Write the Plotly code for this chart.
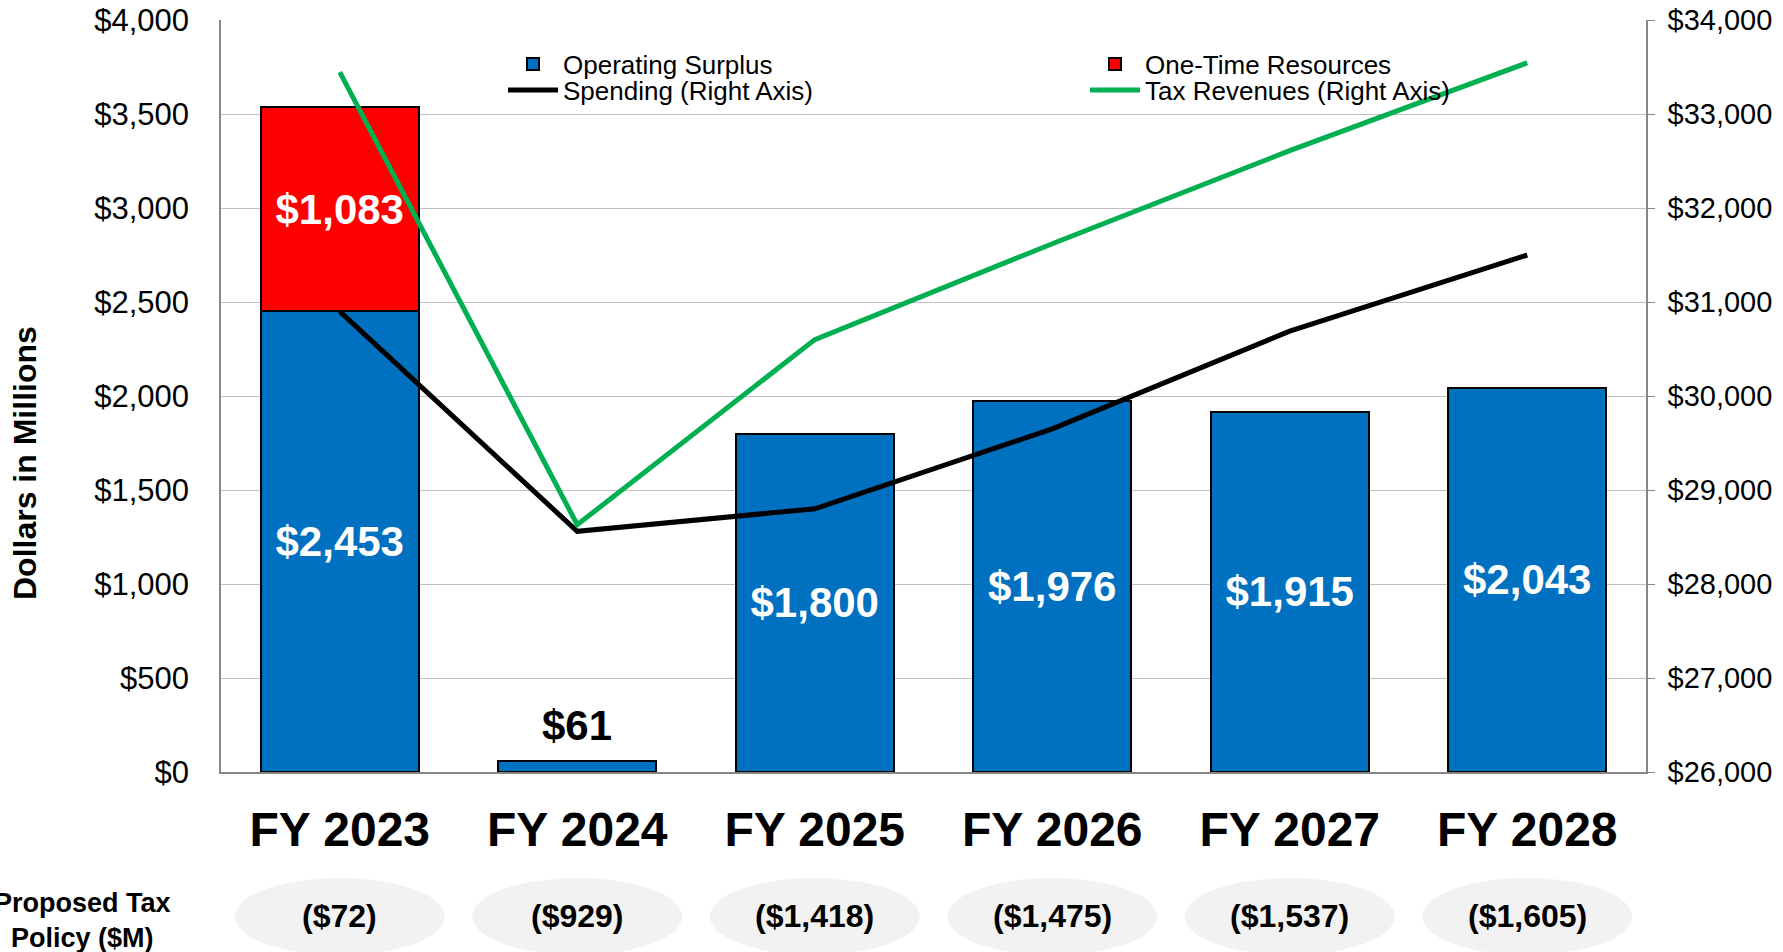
import plotly.graph_objects as go

years = ["FY 2023", "FY 2024", "FY 2025", "FY 2026", "FY 2027", "FY 2028"]
operating_surplus = [2453, 61, 1800, 1976, 1915, 2043]
one_time_resources = [1083, None, None, None, None, None]
spending = [30900, 28560, 28800, 29650, 30690, 31500]
tax_revenues = [33445, 28630, 30600, 31620, 32610, 33545]
tax_policy = [-72, -929, -1418, -1475, -1537, -1605]

FONT = "Liberation Sans, Arial, sans-serif"
W, H = 1783, 952
ML, MR, MT, MB = 221, 137, 20, 180
PH = H - MT - MB
PW = W - ML - MR

def py(px):
    return (H - MB - px) / PH

def pxx(px):
    return (px - ML) / PW

def money(v):
    return "(${:,})".format(abs(v)) if v < 0 else "${:,}".format(v)

# bar labels: the tiny FY 2024 bar gets its label as an annotation above it
surplus_text = [money(v) for v in operating_surplus]
surplus_text[1] = ""

fig = go.Figure()

fig.add_trace(go.Bar(
    x=years, y=operating_surplus, name="Operating Surplus",
    marker=dict(color="#0070C0", line=dict(color="black", width=2)),
    text=surplus_text, texttemplate="%{text}",
    textposition="inside",
    insidetextanchor="middle",
    insidetextfont=dict(family=FONT, size=42, color="white", weight="bold"),
    constraintext="none",
    legend="legend",
))
fig.add_trace(go.Bar(
    x=years, y=one_time_resources, name="One-Time Resources",
    marker=dict(color="#FF0000", line=dict(color="black", width=2)),
    texttemplate="$%{y:,}",
    textposition="inside",
    insidetextanchor="middle",
    insidetextfont=dict(family=FONT, size=42, color="white", weight="bold"),
    constraintext="none",
    legend="legend3",
))
fig.add_trace(go.Scatter(
    x=years, y=spending, name="Spending (Right Axis)", yaxis="y2",
    mode="lines", line=dict(color="black", width=5),
    legend="legend2",
))
fig.add_trace(go.Scatter(
    x=years, y=tax_revenues, name="Tax Revenues (Right Axis)", yaxis="y2",
    mode="lines", line=dict(color="#00B050", width=5),
    legend="legend4",
))

shapes = []
annotations = [dict(
    x=years[1], y=operating_surplus[1], xref="x", yref="y",
    text=money(operating_surplus[1]), showarrow=False,
    xanchor="center", yanchor="bottom", yshift=10,
    font=dict(family=FONT, size=42, color="black", weight="bold"),
)]
for i, v in enumerate(tax_policy):
    shapes.append(dict(
        type="circle", xref="x", yref="paper",
        x0=i - 0.442, x1=i + 0.442, y0=py(955), y1=py(878),
        fillcolor="#f2f2f2", line=dict(width=0), layer="below",
    ))
    annotations.append(dict(
        x=i, y=py(916), xref="x", yref="paper", text=money(v),
        showarrow=False, yanchor="middle", xanchor="center",
        font=dict(family=FONT, size=32, color="black", weight="bold"),
    ))
annotations.append(dict(
    x=pxx(82), y=py(920), xref="paper", yref="paper",
    text="Proposed Tax<br>Policy ($M)", showarrow=False,
    xanchor="center", yanchor="middle", align="center",
    font=dict(family=FONT, size=27, color="black", weight="bold"),
))
# left axis title
annotations.append(dict(
    x=pxx(25), y=py(463), xref="paper", yref="paper",
    text="Dollars in Millions", showarrow=False, textangle=-90,
    xanchor="center", yanchor="middle",
    font=dict(family=FONT, size=32, color="black", weight="bold"),
))

leg_common = dict(bgcolor="rgba(0,0,0,0)", borderwidth=0, itemwidth=50,
                  font=dict(family=FONT, size=26, color="black"),
                  xanchor="left", yanchor="middle", orientation="v")

fig.update_layout(
    width=W, height=H,
    margin=dict(l=ML, r=MR, t=MT, b=MB, autoexpand=False),
    paper_bgcolor="white", plot_bgcolor="white",
    barmode="stack", bargap=0.335,
    font=dict(family=FONT, color="black"),
    showlegend=True,
    legend=dict(x=pxx(503), y=py(64), **leg_common),
    legend2=dict(x=pxx(503), y=py(90), **leg_common),
    legend3=dict(x=pxx(1085), y=py(64), **leg_common),
    legend4=dict(x=pxx(1085), y=py(90), **leg_common),
    xaxis=dict(
        type="category", range=[-0.5, 5.5],
        showline=True, linecolor="#868686", linewidth=1.5,
        ticks="", showgrid=False,
        tickfont=dict(family=FONT, size=48, color="black", weight="bold"),
        ticklabelstandoff=15,
    ),
    yaxis=dict(
        range=[0, 4000], dtick=500, tickprefix="$", tickformat=",",
        showgrid=True, gridcolor="#c0c0c0", gridwidth=1,
        showline=True, linecolor="#868686", linewidth=1.5,
        zeroline=False, ticks="",
        tickfont=dict(family=FONT, size=31, color="black"),
        ticklabelstandoff=24,
    ),
    yaxis2=dict(
        range=[26000, 34000], dtick=1000, tickprefix="$", tickformat=",",
        overlaying="y", side="right", showgrid=False, zeroline=False,
        showline=True, linecolor="#868686", linewidth=1.5,
        ticks="outside", ticklen=7, tickcolor="#868686",
        tickfont=dict(family=FONT, size=29, color="black"),
        ticklabelstandoff=7,
    ),
    shapes=shapes,
    annotations=annotations,
)

fig.write_html(
    "out.html",
    config={"displayModeBar": False},
    post_script="document.body.style.margin='0';document.body.style.overflow='hidden';",
)
